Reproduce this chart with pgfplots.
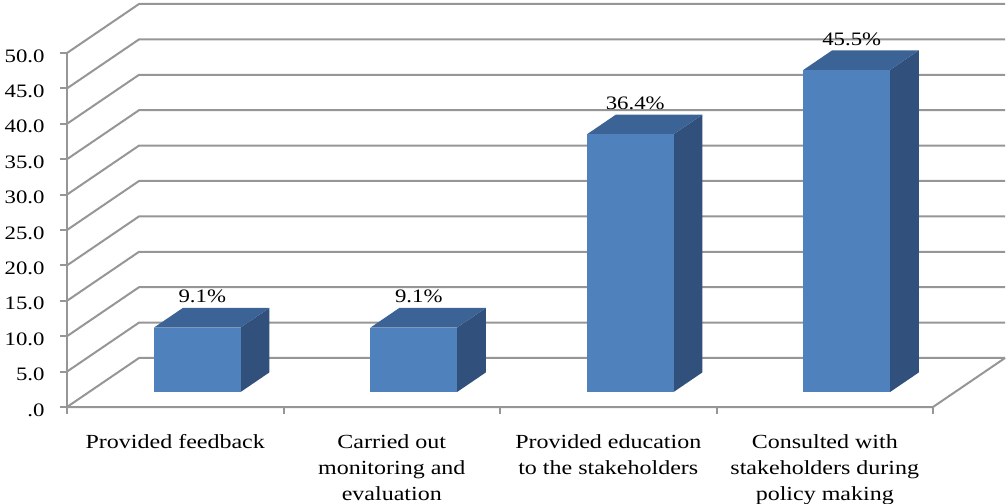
\documentclass[border=0pt]{standalone}
\usepackage{pgfplots}
\pgfplotsset{compat=1.18}
\usepackage{pgfplotstable}
\usepackage{fontspec}
\setmainfont{Liberation Serif}[FakeStretch=1.2]

\definecolor{barfront}{RGB}{79,129,189}
\definecolor{bartop}{RGB}{60,99,149}
\definecolor{barside}{RGB}{49,80,123}
\definecolor{gridgray}{RGB}{150,150,150}

\pgfplotstableread{
idx val
0 9.1
1 9.1
2 36.4
3 45.5
}\datatable

% oblique depth: one unit of depth moves a point by (\kx,\ky) axis units
\def\kx{0.3326}
\def\ky{6.921}
\def\xback{4.3326}
% bars occupy depth 0.306 .. 0.706 and width 0.4 of a category
\def\dA{0.306}
\def\dW{0.4}
\newcommand\vlabelfont{\fontsize{9.5}{11}\selectfont}

% one gridline: left side wall then back wall
\newcommand\gridline[1]{%
  \pgfmathsetmacro\ga{#1+\ky}%
  \edef\next{\noexpand\addplot[gridgray,line width=1pt,mark=none]
    coordinates {(0,#1) (\kx,\ga) (\xback,\ga)};}%
  \next}

% one box-shaped bar: #1 category index, #2 value
\newcommand\drawbar[2]{%
  \pgfmathsetmacro\xa{#1+0.3+\dA*\kx}%
  \pgfmathsetmacro\xb{\xa+0.4}%
  \pgfmathsetmacro\yb{\dA*\ky}%
  \pgfmathsetmacro\yt{\yb+#2}%
  \pgfmathsetmacro\ddx{\dW*\kx}%
  \pgfmathsetmacro\ddy{\dW*\ky}%
  \pgfmathsetmacro\xc{\xb+\ddx}%
  \pgfmathsetmacro\xd{\xa+\ddx}%
  \pgfmathsetmacro\ybb{\yb+\ddy}%
  \pgfmathsetmacro\ytb{\yt+\ddy}%
  \pgfmathsetmacro\xl{\xa+0.2+0.023}%
  \edef\next{%
    \noexpand\addplot[fill=barside,draw=none,mark=none]
      coordinates {(\xb,\yb) (\xc,\ybb) (\xc,\ytb) (\xb,\yt)};
    \noexpand\addplot[fill=bartop,draw=none,mark=none]
      coordinates {(\xa,\yt) (\xb,\yt) (\xc,\ytb) (\xd,\ytb)};
    \noexpand\addplot[fill=barfront,draw=none,mark=none]
      coordinates {(\xa,\yb) (\xb,\yb) (\xb,\yt) (\xa,\yt)};
    \noexpand\node[anchor=base,inner sep=0pt,font=\noexpand\vlabelfont]
      at (axis cs:\xl,\ytb) [yshift=2.5pt] {#2\noexpand\%};
  }%
  \next}

\begin{document}
\begin{tikzpicture}
\path[use as bounding box] (-33.5pt,-48.5pt) rectangle (470.5pt,203.5pt);
\begin{axis}[
  at={(0,0)}, anchor=south west,
  x=108.25pt, y=3.54pt,
  xmin=0, xmax=4.3326, ymin=0, ymax=56.921,
  clip=false,
  axis line style={draw=none},
  ytick={0,5,...,50},
  yticklabels={.0,5.0,10.0,15.0,20.0,25.0,30.0,35.0,40.0,45.0,50.0},
  xtick={0,1,2,3,4}, xticklabels={},
  tick pos=left,
  tick align=outside,
  major tick length=3.5pt,
  tick style={gridgray,line width=1pt},
  yticklabel style={font=\fontsize{9.5}{11}\selectfont,anchor=east,
    inner sep=0pt,xshift=-7.5pt,yshift=-1.5pt},
]
% walls
\pgfplotsinvokeforeach{0,5,...,50}{\gridline{#1}}
% floor: front edge and right edge
\addplot[gridgray,line width=1pt,mark=none] coordinates {(0,0) (4,0) (\xback,\ky)};
% value axis line
\addplot[gridgray,line width=1pt,mark=none] coordinates {(0,0) (0,50)};
% bars
\pgfplotsinvokeforeach{0,1,2,3}{%
  \pgfplotstablegetelem{#1}{val}\of\datatable
  \drawbar{#1}{\pgfplotsretval}}
% category names
\begin{scope}[every node/.style={anchor=north,align=center,inner sep=0pt,
    font=\fontsize{10}{13}\selectfont}]
\node at (axis cs:0.5,0) [yshift=-13.5pt] {Provided feedback};
\node at (axis cs:1.5,0) [yshift=-13.5pt] {Carried out\\monitoring and\\evaluation};
\node at (axis cs:2.5,0) [yshift=-13.5pt] {Provided education\\to the stakeholders};
\node at (axis cs:3.5,0) [yshift=-13.5pt] {Consulted with\\stakeholders during\\policy making};
\end{scope}
\end{axis}
\end{tikzpicture}
\end{document}
